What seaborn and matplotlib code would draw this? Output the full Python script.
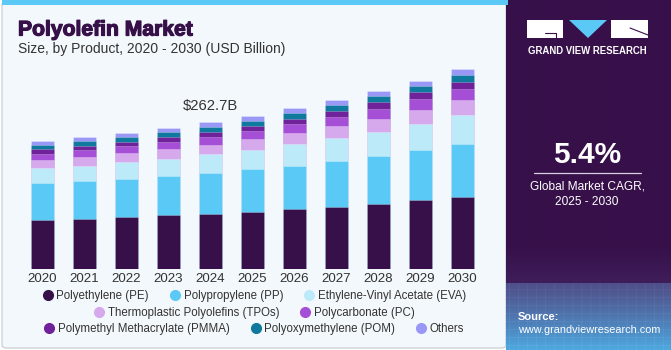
import numpy as np
import pandas as pd
import matplotlib
matplotlib.use("Agg")
import matplotlib.pyplot as plt
import matplotlib.patheffects as pe_fx
import seaborn as sns
from matplotlib.patches import Rectangle, FancyBboxPatch, Polygon
from matplotlib.lines import Line2D

# ---------------- data ----------------
years = ["2020", "2021", "2022", "2023", "2024", "2025", "2026", "2027", "2028", "2029", "2030"]
products = ["Polyethylene (PE)", "Polypropylene (PP)", "Ethylene-Vinyl Acetate (EVA)",
            "Thermoplastic Polyolefins (TPOs)", "Polycarbonate (PC)",
            "Polymethyl Methacrylate (PMMA)", "Polyoxymethylene (POM)", "Others"]
pe    = [87.4, 89.7, 92.7, 95.8, 98.5, 102.2, 106.5, 111.1, 116.4, 122.5, 128.9]
pp    = [65.4, 66.5, 68.3, 70.1, 73.1, 75.4, 77.9, 82.0, 85.1, 89.7, 94.5]
eva   = [26.7, 28.0, 29.1, 30.8, 32.6, 35.1, 38.0, 39.8, 43.3, 46.9, 51.2]
tpo   = [14.8, 15.5, 16.0, 17.3, 17.8, 18.4, 20.1, 21.4, 23.2, 24.4, 26.2]
pc    = [11.2, 11.9, 12.5, 13.0, 14.0, 15.0, 15.5, 17.3, 17.8, 19.1, 20.1]
pmma  = [7.7, 7.7, 8.4, 8.4, 8.9, 8.9, 10.2, 10.2, 11.2, 12.5, 13.0]
pom   = [8.4, 8.4, 8.4, 8.4, 8.9, 8.9, 9.5, 10.2, 10.7, 11.2, 12.5]
others = [7.1, 7.1, 7.7, 8.4, 8.9, 8.4, 8.9, 9.5, 9.5, 9.5, 9.5]
series = [pe, pp, eva, tpo, pc, pmma, pom, others]
colors = ["#37104a", "#5bc9f6", "#bdeaf9", "#d5a9ec", "#a54fd6", "#6f2299", "#0f7a9d", "#9a98f6"]
highlight_label = "$262.7B"
highlight_idx = 4

# ---------------- figure ----------------
sns.set_style("white")
plt.rcParams["font.family"] = ["Liberation Sans", "DejaVu Sans"]

W, H = 671, 350
fig = plt.figure(figsize=(W / 100, H / 100), dpi=100)
fig.patch.set_facecolor("white")

def fx(px):
    return px / W

def fy(py):
    return 1 - py / H

# main panel background
fig.patches.append(FancyBboxPatch((fx(2), fy(348)), fx(504), (346) / H,
                                  boxstyle="round,pad=0,rounding_size=0.008",
                                  transform=fig.transFigure, facecolor="#f3f8fc",
                                  edgecolor="#cfd3d8", linewidth=1.0, zorder=0))
fig.patches.append(Rectangle((fx(2), fy(5)), fx(506), 5 / H, transform=fig.transFigure,
                             facecolor="#5bc9f6", edgecolor="none", zorder=1))

# right panel gradient
rp = fig.add_axes([fx(506), 0, fx(165), 1], zorder=1)
img = np.zeros((H, 165, 3))
top = np.array([55, 16, 74]) / 255
mid = np.array([62, 30, 90]) / 255
b1 = np.array([80, 80, 138]) / 255
b2 = np.array([78, 170, 225]) / 255
for r in range(H):
    if r < 245:
        c = top
    elif r < 283:
        t = (r - 245) / 38
        c = top * (1 - t) + mid * t
    else:
        t = ((r - 283) / (H - 283)) ** 1.2
        c = b1 * (1 - t) + b2 * t
    img[r, :, :] = c
for xx in range(3, 165, 9):
    img[283:, xx, :] = np.clip(img[283:, xx, :] + 0.025, 0, 1)
for yy in range(289, H, 8):
    img[yy, :, :] = np.clip(img[yy, :, :] + 0.025, 0, 1)
rp.imshow(img, aspect="auto", extent=(0, 165, H, 0))
rp.set_axis_off()

# ---------------- chart ----------------
ymax = 400
ax = fig.add_axes([fx(21.3), fy(269), fx(462), (ymax / 1.7834) / H], zorder=2)
ax.patch.set_alpha(0)

cum = np.cumsum(np.array(series), axis=0)
df = pd.DataFrame({"year": years})
for i in range(len(series) - 1, -1, -1):
    df["v"] = cum[i]
    sns.barplot(data=df, x="year", y="v", order=years, color=colors[i], saturation=1,
                width=0.54, edgecolor=(1, 1, 1, 0.35), linewidth=0.5, ax=ax)

ax.set_xlim(-0.5, len(years) - 0.5)
ax.set_ylim(0, ymax)
ax.set_xlabel("")
ax.set_ylabel("")
ax.set_yticks([])
for s in ax.spines.values():
    s.set_visible(False)
ax.tick_params(axis="x", length=0, pad=3, labelsize=9.6, labelcolor="#333333")

ax.annotate(highlight_label, xy=(highlight_idx, cum[-1][highlight_idx]),
            xytext=(0, 6.5), textcoords="offset points", ha="center", va="bottom",
            fontsize=10.6, color="#333333")

# legend rows
handles = [Line2D([], [], marker="o", linestyle="none", markersize=7,
                  markerfacecolor=c, markeredgecolor=c) for c in colors]
row_def = [([0, 1, 2], fy(296)), ([3, 4], fy(313)), ([5, 6, 7], fy(329))]
for idxs, yy in row_def:
    fig.legend([handles[i] for i in idxs], [products[i] for i in idxs],
               loc="center", bbox_to_anchor=(fx(253), yy), ncol=len(idxs),
               frameon=False, fontsize=8.3, handletextpad=0.1, columnspacing=1.6,
               handlelength=1.3, borderpad=0, labelcolor="#333333")

# titles
fig.text(fx(18), fy(30), "Polyolefin Market", fontsize=15.2, fontweight="bold",
         color="#37104a", ha="left", va="center",
         path_effects=[pe_fx.withStroke(linewidth=0.9, foreground="#37104a")])
fig.text(fx(18), fy(49), "Size, by Product, 2020 - 2030 (USD Billion)", fontsize=10,
         color="#333333", ha="left", va="center")

# ---------------- right panel content ----------------
fig.patches.append(Rectangle((fx(527), fy(38)), fx(36), 18 / H, transform=fig.transFigure,
                             facecolor="white", edgecolor="none", zorder=3))
fig.patches.append(Rectangle((fx(611), fy(38)), fx(37), 18 / H, transform=fig.transFigure,
                             facecolor="white", edgecolor="none", zorder=3))
fig.patches.append(Polygon([(fx(569), fy(20)), (fx(607), fy(20)), (fx(588), fy(38))],
                           closed=True, transform=fig.transFigure, facecolor="#5bc9f6",
                           edgecolor="none", zorder=3))
fig.lines.append(Line2D([fx(545), fx(556)], [fy(32.5), fy(32.5)], transform=fig.transFigure,
                        color="#37104a", linewidth=0.8, zorder=4))
fig.lines.append(Line2D([fx(556), fx(556)], [fy(32.5), fy(38)], transform=fig.transFigure,
                        color="#37104a", linewidth=0.8, zorder=4))
fig.lines.append(Line2D([fx(630), fx(648)], [fy(28), fy(35)], transform=fig.transFigure,
                        color="#37104a", linewidth=0.8, zorder=4))
fig.text(fx(587.5), fy(51), "GRAND VIEW RESEARCH", fontsize=6.9, fontweight="bold",
         color="white", ha="center", va="center", zorder=4)

fig.text(fx(587), fy(155), "5.4%", fontsize=21.5, fontweight="bold", color="white",
         ha="center", va="center", zorder=4)
fig.lines.append(Line2D([fx(534), fx(641)], [fy(173), fy(173)], transform=fig.transFigure,
                        color="#d8d0e0", linewidth=0.9, zorder=4))
fig.text(fx(587), fy(186), "Global Market CAGR,", fontsize=8.6, color="white",
         ha="center", va="center", zorder=4)
fig.text(fx(587), fy(202), "2025 - 2030", fontsize=8.6, color="white",
         ha="center", va="center", zorder=4)

fig.text(fx(518), fy(317), "Source:", fontsize=8, fontweight="bold", color="white",
         ha="left", va="center", zorder=4)
fig.text(fx(518), fy(330), "www.grandviewresearch.com", fontsize=7.8, color="white",
         ha="left", va="center", zorder=4)

fig.savefig("out.png", dpi=100, facecolor=fig.get_facecolor())
